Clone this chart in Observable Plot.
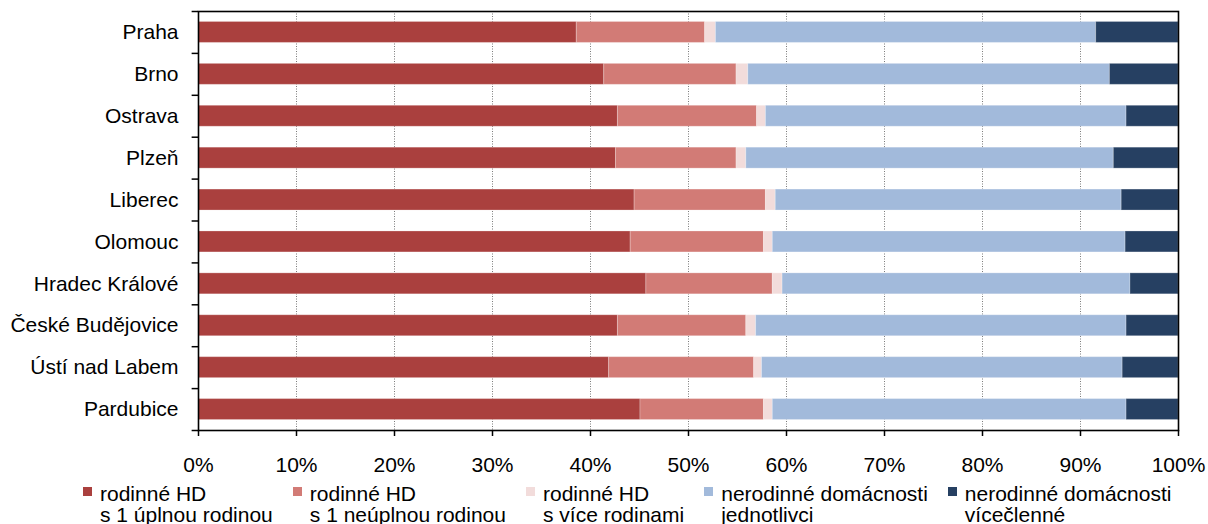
<!DOCTYPE html>
<html><head><meta charset="utf-8">
<script src="https://cdn.jsdelivr.net/npm/d3@7"></script>
<script src="https://cdn.jsdelivr.net/npm/@observablehq/plot@0.6"></script>
<style>
body{margin:0;background:#fff;font-family:"Liberation Sans",Arial,sans-serif;}
#chart{width:1208px;height:524px;position:relative;overflow:hidden;background:#fff}
.legend{display:flex;gap:20px;padding-left:83px;padding-top:2.5px;font-size:21px;line-height:21px;color:#000;white-space:nowrap}
.item{display:flex;align-items:flex-start}
.sw{width:9px;height:9px;margin-top:4px;margin-right:8px;flex:none}
</style></head><body><div id="chart"></div>
<script>
const cities = ["Praha","Brno","Ostrava","Plzeň","Liberec","Olomouc","Hradec Králové","České Budějovice","Ústí nad Labem","Pardubice"];
const seriesKeys = ["rodinné HD s 1 úplnou rodinou","rodinné HD s 1 neúplnou rodinou","rodinné HD s více rodinami","nerodinné domácnosti jednotlivci","nerodinné domácnosti vícečlenné"];
const seriesLine1 = ["rodinné HD","rodinné HD","rodinné HD","nerodinné domácnosti","nerodinné domácnosti"];
const seriesLine2 = ["s 1 úplnou rodinou","s 1 neúplnou rodinou","s více rodinami","jednotlivci","vícečlenné"];
const uplna       = [38.6, 41.4, 42.8, 42.6, 44.5, 44.1, 45.7, 42.8, 41.9, 45.1];
const neuplna     = [13.1, 13.5, 14.2, 12.3, 13.4, 13.6, 12.9, 13.1, 14.8, 12.6];
const viceRodin   = [1.1, 1.2, 0.9, 1.0, 1.0, 0.9, 1.0, 1.0, 0.8, 0.9];
const jednotlivci = [38.8, 36.9, 36.8, 37.5, 35.3, 36.0, 35.5, 37.8, 36.8, 36.1];
const vicecl      = [8.4, 7.0, 5.3, 6.6, 5.8, 5.4, 4.9, 5.3, 5.7, 5.3];
const xTicks = [0,10,20,30,40,50,60,70,80,90,100];
const colors = ["#AA403E","#D27B76","#F2DCDB","#A2BADB","#264062"];

const seriesValues = [uplna, neuplna, viceRodin, jednotlivci, vicecl];
const rows = cities.flatMap((c, i) => seriesKeys.map((s, j) => ({city: c, series: s, value: seriesValues[j][i]})));

const plotTop = 11, plotBottom = 430, svgHeight = 480;
const step = (plotBottom - plotTop) / cities.length;

const plot = Plot.plot({
  width: 1208, height: svgHeight,
  marginTop: plotTop, marginBottom: svgHeight - plotBottom, marginLeft: 198, marginRight: 30,
  style: {fontFamily: '"Liberation Sans", Arial, sans-serif', fontSize: "21px", color: "#000", background: "#fff", overflow: "visible"},
  x: {domain: [0, 100]},
  y: {domain: cities, paddingInner: 0.5, paddingOuter: 0.25, align: 0.5, round: false},
  color: {domain: seriesKeys, range: colors},
  marks: [
    Plot.gridX(xTicks.filter(t => t > 0 && t < 100), {stroke: "#7a7a7a", strokeOpacity: 1, strokeDasharray: "1,1.5", strokeWidth: 1}),
    Plot.barX(rows, Plot.stackX({x: "value", y: "city", fill: "series", order: seriesKeys, stroke: "#ffffff", strokeOpacity: 0.25, strokeWidth: 1})),
    Plot.frame({stroke: "#000", strokeWidth: 1.6}),
    Plot.axisX(xTicks, {tickSize: 6, tickPadding: 21, tickFormat: d => d + "%", label: null, strokeWidth: 1.5}),
    Plot.axisY({tickSize: 0, tickPadding: 20, label: null}),
    Plot.ruleY(cities, {y: d => d, x1: () => -0.65, x2: () => 0, dy: -step / 2, stroke: "#000", strokeWidth: 1.5}),
    Plot.ruleY([cities[cities.length - 1]], {y: d => d, x1: () => -0.65, x2: () => 0, dy: step / 2, stroke: "#000", strokeWidth: 1.5})
  ]
});

const chart = document.getElementById("chart");
chart.appendChild(plot);

const legend = document.createElement("div");
legend.className = "legend";
seriesKeys.forEach((k, j) => {
  const item = document.createElement("div");
  item.className = "item";
  const sw = document.createElement("div");
  sw.className = "sw";
  sw.style.background = colors[j];
  const txt = document.createElement("div");
  txt.innerHTML = seriesLine1[j] + "<br>" + seriesLine2[j];
  item.appendChild(sw);
  item.appendChild(txt);
  legend.appendChild(item);
});
chart.appendChild(legend);
</script>
</body></html>
